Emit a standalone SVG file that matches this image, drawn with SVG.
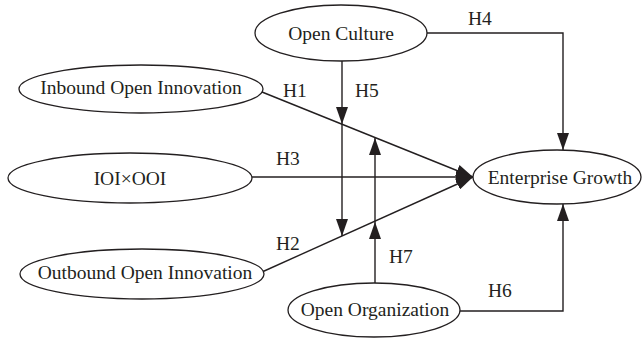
<svg xmlns="http://www.w3.org/2000/svg" width="642" height="338" viewBox="0 0 642 338">
  <style>
    .node { fill: #ffffff; stroke: #231f20; stroke-width: 1.3; }
    .label { font-family: "Liberation Serif", "Times New Roman", serif; font-size: 19.5px; fill: #231f20; text-anchor: middle; }
    .hyp { font-family: "Liberation Serif", "Times New Roman", serif; font-size: 19.5px; fill: #231f20; }
    .edge { fill: none; stroke: #231f20; stroke-width: 1.4; }
  </style>
  <defs>
    <marker id="arrow" viewBox="0 0 17 12" refX="17" refY="6" markerWidth="17" markerHeight="12" markerUnits="userSpaceOnUse" orient="auto">
      <path d="M0,0 L17,6 L0,12 z" fill="#231f20"/>
    </marker>
  </defs>
  <rect width="642" height="338" fill="#ffffff"/>

  <g id="connectors">
    <!-- H1: inbound to growth -->
    <line class="edge" x1="262" y1="92" x2="473" y2="177" marker-end="url(#arrow)"/>
    <!-- H3: interaction to growth -->
    <line class="edge" x1="251" y1="177" x2="473" y2="177" marker-end="url(#arrow)"/>
    <!-- H2: outbound to growth -->
    <line class="edge" x1="262" y1="272" x2="473" y2="177" marker-end="url(#arrow)"/>
    <!-- H4: culture to growth -->
    <polyline class="edge" points="427,33 563,33 563,150" marker-end="url(#arrow)"/>
    <!-- H6: organization to growth -->
    <polyline class="edge" points="460,311 563,311 563,204" marker-end="url(#arrow)"/>
    <!-- H5: culture moderating H1 and H2 -->
    <line class="edge" x1="342" y1="61" x2="342" y2="124" marker-end="url(#arrow)"/>
    <line class="edge" x1="342" y1="124" x2="342" y2="236" marker-end="url(#arrow)"/>
    <!-- H7: organization moderating H2 and H1 -->
    <line class="edge" x1="375" y1="283" x2="375" y2="222" marker-end="url(#arrow)"/>
    <line class="edge" x1="375" y1="222" x2="375" y2="138" marker-end="url(#arrow)"/>
  </g>

  <g id="hypotheses">
    <text class="hyp" x="283" y="97">H1</text>
    <text class="hyp" x="355" y="97">H5</text>
    <text class="hyp" x="276" y="165">H3</text>
    <text class="hyp" x="276" y="250">H2</text>
    <text class="hyp" x="389" y="263">H7</text>
    <text class="hyp" x="468" y="25">H4</text>
    <text class="hyp" x="488" y="297">H6</text>
  </g>

  <g id="open-culture">
    <ellipse class="node" cx="341" cy="33" rx="86" ry="28"/>
    <text class="label" x="341" y="40">Open Culture</text>
  </g>
  <g id="inbound">
    <ellipse class="node" cx="141" cy="89" rx="122" ry="24"/>
    <text class="label" x="141" y="94">Inbound Open Innovation</text>
  </g>
  <g id="interaction">
    <ellipse class="node" cx="130" cy="178" rx="122" ry="25"/>
    <text class="label" x="130" y="185">IOI×OOI</text>
  </g>
  <g id="outbound">
    <ellipse class="node" cx="142" cy="274" rx="122" ry="25"/>
    <text class="label" x="145" y="279">Outbound Open Innovation</text>
  </g>
  <g id="enterprise-growth">
    <ellipse class="node" cx="557" cy="177" rx="84" ry="27"/>
    <text class="label" x="560" y="184">Enterprise Growth</text>
  </g>
  <g id="open-organization">
    <ellipse class="node" cx="374" cy="310" rx="86" ry="27"/>
    <text class="label" x="375" y="316">Open Organization</text>
  </g>
</svg>
